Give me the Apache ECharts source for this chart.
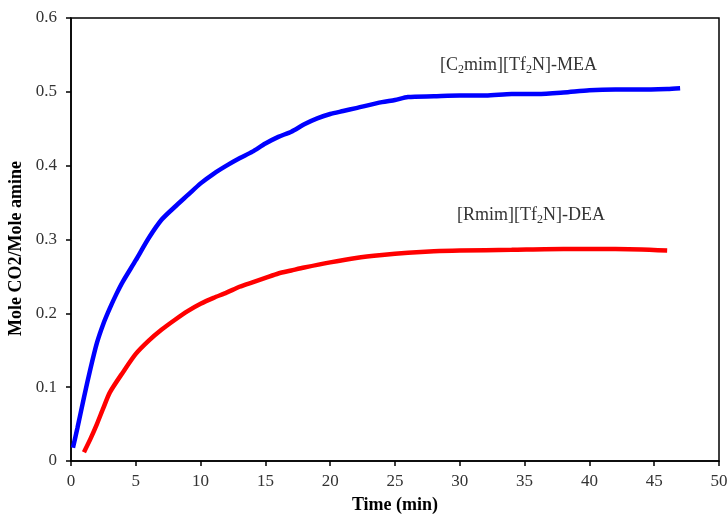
<!DOCTYPE html>
<html>
<head>
<meta charset="utf-8">
<script src="https://cdn.jsdelivr.net/npm/echarts@6/dist/echarts.min.js"></script>
<style>html,body{margin:0;padding:0;background:#fff;}#c{width:727px;height:514px;}</style>
</head>
<body>
<div id="c"></div>
<script>
const meaTime = [0.15,0.5,1,1.5,2,2.5,3,3.5,4,5,6,7,8,9,10,11,12,13,14,15,16,17,18,19,20,21,22,24,25,26,28,30,32,34,36,38,40,42,44,46,47];
const meaValues = [0.018,0.045,0.086,0.125,0.16,0.186,0.207,0.226,0.243,0.272,0.302,0.327,0.344,0.36,0.376,0.389,0.4,0.41,0.419,0.43,0.439,0.446,0.456,0.464,0.47,0.474,0.478,0.486,0.489,0.493,0.494,0.495,0.495,0.497,0.497,0.499,0.502,0.503,0.503,0.504,0.505];
const deaTime = [1,1.5,2,2.5,3,4,5,6,7,8,9,10,11,12,13,14,15,16,17,18,20,22,24,26,28,30,34,38,42,46];
const deaValues = [0.012,0.03,0.05,0.072,0.093,0.12,0.145,0.163,0.178,0.191,0.203,0.213,0.221,0.228,0.236,0.242,0.248,0.254,0.258,0.262,0.269,0.275,0.279,0.282,0.284,0.285,0.286,0.287,0.287,0.285];
const xTicks = [0,5,10,15,20,25,30,35,40,45,50];
const yTicks = [0,0.1,0.2,0.3,0.4,0.5,0.6];

const chart = echarts.init(document.getElementById('c'));
const serif = '"Liberation Serif", "Times New Roman", serif';
chart.setOption({
  animation: false,
  backgroundColor: '#fff',
  grid: { left: 71, right: 8, top: 18, bottom: 53, show: true, borderColor: '#000', borderWidth: 1.5,
          containLabel: false, outerBoundsMode: 'none' },
  xAxis: {
    type: 'value', min: 0, max: 50, interval: 5,
    name: 'Time (min)', nameLocation: 'middle', nameGap: 35,
    nameTextStyle: { fontFamily: serif, fontSize: 18, fontWeight: 'bold', color: '#000' },
    axisLine: { lineStyle: { color: '#000', width: 1.5 } },
    axisTick: { show: true, inside: false, length: 5, lineStyle: { color: '#000', width: 1.5 } },
    axisLabel: { fontFamily: serif, fontSize: 17, color: '#333', margin: 12 },
    splitLine: { show: false }
  },
  yAxis: {
    type: 'value', min: 0, max: 0.6, interval: 0.1,
    name: 'Mole CO2/Mole amine', nameLocation: 'middle', nameGap: 39,
    nameTextStyle: { fontFamily: serif, fontSize: 18, fontWeight: 'bold', color: '#000', padding: [0, 18, 0, 0] },
    axisLine: { show: true, lineStyle: { color: '#000', width: 1.5 } },
    axisTick: { show: true, inside: false, length: 5, lineStyle: { color: '#000', width: 1.5 } },
    axisLabel: { fontFamily: serif, fontSize: 17, color: '#333', margin: 14,
      formatter: v => (Math.round(v*10)/10).toString() },
    splitLine: { show: false }
  },
  series: [
    { type: 'line', data: meaTime.map((t,i)=>[t, meaValues[i]]), smooth: 0.25, showSymbol: false,
      lineStyle: { color: '#0000FF', width: 4.5 } },
    { type: 'line', data: deaTime.map((t,i)=>[t, deaValues[i]]), smooth: 0.25, showSymbol: false,
      lineStyle: { color: '#FF0000', width: 4.5 } }
  ],
  graphic: [
    { type: 'text', left: 440, top: 56, style: {
      text: '{n|[C}{s|2}{n|mim][Tf}{s|2}{n|N]-MEA}',
      rich: { n: { fontFamily: serif, fontSize: 18, fill: '#333' }, s: { fontFamily: serif, fontSize: 12, fill: '#333', padding: [9,0,0,0] } } } },
    { type: 'text', left: 457, top: 206, style: {
      text: '{n|[Rmim][Tf}{s|2}{n|N]-DEA}',
      rich: { n: { fontFamily: serif, fontSize: 18, fill: '#333' }, s: { fontFamily: serif, fontSize: 12, fill: '#333', padding: [9,0,0,0] } } } }
  ]
});
</script>
</body>
</html>
